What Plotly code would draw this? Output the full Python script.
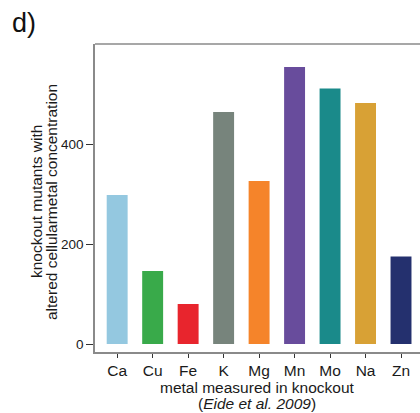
import plotly.graph_objects as go

metals = ["Ca", "Cu", "Fe", "K", "Mg", "Mn", "Mo", "Na", "Zn"]
counts = [298, 146, 80, 464, 326, 554, 511, 482, 175]
colors = ["#94C8E0", "#39AA4A", "#E8252D", "#77847C", "#F5842A",
          "#684C9C", "#1A8A8A", "#D8A135", "#24306E"]
ytick_vals = [0, 200, 400]

FONT = "Liberation Sans, Arial, sans-serif"
AXC = "#8a8a8a"

fig = go.Figure()
fig.add_trace(go.Bar(x=list(range(len(metals))), y=counts, marker_color=colors,
                     marker_line_width=0, width=0.59))

fig.update_layout(
    width=420, height=413,
    margin=dict(l=95, r=0, t=44, b=61),
    plot_bgcolor="white", paper_bgcolor="white",
    showlegend=False,
    font=dict(family=FONT, color="#1a1a1a"),
    xaxis=dict(
        range=[-0.625, 8.535],
        tickmode="array", tickvals=list(range(len(metals))), ticktext=metals,
        ticks="outside", ticklen=4, tickcolor="#333", tickwidth=1,
        ticklabelstandoff=0,
        showline=True, linecolor=AXC, linewidth=1.5,
        showgrid=False, zeroline=False,
        tickfont=dict(size=15.5, family=FONT, color="#1a1a1a"),
    ),
    yaxis=dict(
        range=[-16, 600],
        tickmode="array", tickvals=ytick_vals, ticktext=[str(v) for v in ytick_vals],
        ticks="outside", ticklen=7, tickcolor="#333", tickwidth=1,
        showline=True, linecolor=AXC, linewidth=1.5,
        showgrid=False, zeroline=False,
        tickfont=dict(size=13.5, family=FONT, color="#1a1a1a"),
    ),
)

# top frame line
fig.add_shape(type="line", xref="paper", yref="paper", x0=0, x1=1, y0=1, y1=1,
              line=dict(color=AXC, width=1.5))

# panel label
fig.add_annotation(text="d)", xref="paper", yref="paper", x=0, xshift=-85,
                   y=1, yshift=21, xanchor="left", yanchor="middle", showarrow=False,
                   font=dict(size=27, family=FONT, color="#111"))

# x title
fig.add_annotation(text="metal measured in knockout", xref="paper", yref="paper",
                   x=(257 - 95) / 325, y=0, yshift=-35, xanchor="center", yanchor="middle",
                   showarrow=False, font=dict(size=15.5, family=FONT, color="#1a1a1a"))
fig.add_annotation(text="(<i>Eide et al. 2009</i>)", xref="paper", yref="paper",
                   x=(257 - 95) / 325, y=0, yshift=-51, xanchor="center", yanchor="middle",
                   showarrow=False, font=dict(size=15.5, family=FONT, color="#1a1a1a"))

# y title (two lines)
fig.add_annotation(text="knockout mutants with", xref="paper", yref="paper",
                   x=0, xshift=-59, y=(352 - 202) / 308, textangle=-90,
                   xanchor="center", yanchor="middle", showarrow=False,
                   font=dict(size=15.5, family=FONT, color="#1a1a1a"))
fig.add_annotation(text="altered cellularmetal concentration", xref="paper", yref="paper",
                   x=0, xshift=-44, y=(352 - 202) / 308, textangle=-90,
                   xanchor="center", yanchor="middle", showarrow=False,
                   font=dict(size=15.5, family=FONT, color="#1a1a1a"))

fig.write_html("out.html")
